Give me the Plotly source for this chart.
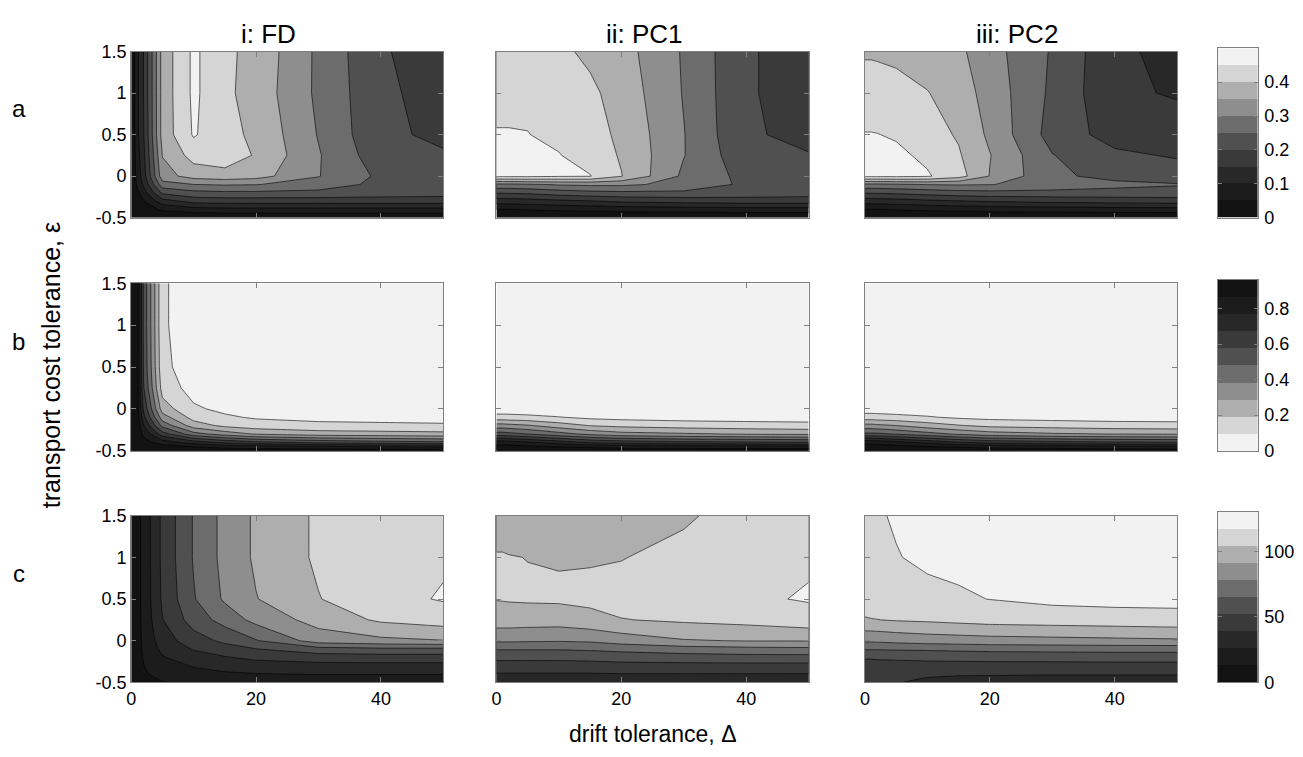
import numpy as np
import plotly.graph_objects as go

# ---------------- data ----------------
delta = [0, 1, 2, 5, 10, 15, 20, 30, 40, 50]                       # drift tolerance (x grid)
epsilon = [-0.5, -0.45, -0.4, -0.3, -0.2, -0.1, 0, 0.25, 0.5, 1.0, 1.5]  # transport cost tolerance (y grid)

col_titles = ["i: FD", "ii: PC1", "iii: PC2"]
row_labels = ["a", "b", "c"]

# each inner list = one delta column, values ordered along epsilon
a_fd = [
    [0, 0, 0, 0, 0, 0, 0, 0, 0, 0, 0],
    [0, 0, 0.01, 0.02, 0.04, 0.06, 0.07, 0.08, 0.09, 0.09, 0.09],
    [0, 0.01, 0.02, 0.048, 0.08, 0.11, 0.13, 0.14, 0.148, 0.152, 0.152],
    [0, 0.03, 0.06, 0.13, 0.21, 0.28, 0.33, 0.352, 0.37, 0.37, 0.37],
    [0, 0.04, 0.08, 0.17, 0.235, 0.30, 0.37, 0.42, 0.455, 0.46, 0.46],
    [0, 0.045, 0.085, 0.175, 0.24, 0.305, 0.38, 0.43, 0.415, 0.41, 0.41],
    [0, 0.045, 0.085, 0.175, 0.24, 0.302, 0.37, 0.395, 0.39, 0.38, 0.385],
    [0, 0.045, 0.085, 0.175, 0.235, 0.28, 0.302, 0.304, 0.297, 0.29, 0.29],
    [0, 0.045, 0.085, 0.175, 0.225, 0.235, 0.24, 0.22, 0.21, 0.21, 0.205],
    [0, 0.045, 0.085, 0.175, 0.22, 0.225, 0.225, 0.205, 0.19, 0.18, 0.175],
]
a_pc1 = [
    [0, 0.02, 0.048, 0.125, 0.205, 0.29, 0.46, 0.47, 0.452, 0.44, 0.44],
    [0, 0.02, 0.048, 0.125, 0.205, 0.29, 0.46, 0.47, 0.452, 0.44, 0.44],
    [0, 0.02, 0.049, 0.126, 0.206, 0.29, 0.46, 0.47, 0.452, 0.44, 0.439],
    [0, 0.025, 0.055, 0.13, 0.21, 0.295, 0.46, 0.465, 0.451, 0.44, 0.435],
    [0, 0.03, 0.06, 0.14, 0.225, 0.305, 0.455, 0.452, 0.44, 0.43, 0.41],
    [0, 0.03, 0.065, 0.148, 0.235, 0.31, 0.452, 0.43, 0.42, 0.41, 0.39],
    [0, 0.035, 0.07, 0.16, 0.24, 0.31, 0.402, 0.395, 0.39, 0.38, 0.37],
    [0, 0.035, 0.075, 0.17, 0.24, 0.285, 0.29, 0.302, 0.302, 0.297, 0.295],
    [0, 0.04, 0.08, 0.175, 0.23, 0.24, 0.235, 0.215, 0.205, 0.205, 0.205],
    [0, 0.04, 0.08, 0.175, 0.222, 0.225, 0.225, 0.202, 0.19, 0.18, 0.18],
]
a_pc2 = [
    [0, 0.02, 0.048, 0.125, 0.205, 0.29, 0.46, 0.47, 0.452, 0.42, 0.395],
    [0, 0.02, 0.048, 0.125, 0.205, 0.29, 0.46, 0.47, 0.452, 0.42, 0.395],
    [0, 0.02, 0.049, 0.126, 0.206, 0.29, 0.46, 0.468, 0.451, 0.419, 0.394],
    [0, 0.025, 0.055, 0.13, 0.21, 0.295, 0.46, 0.46, 0.445, 0.415, 0.39],
    [0, 0.03, 0.06, 0.14, 0.22, 0.302, 0.455, 0.44, 0.42, 0.402, 0.375],
    [0, 0.03, 0.065, 0.148, 0.23, 0.305, 0.42, 0.405, 0.395, 0.375, 0.36],
    [0, 0.035, 0.07, 0.155, 0.235, 0.302, 0.348, 0.352, 0.34, 0.33, 0.32],
    [0, 0.035, 0.075, 0.165, 0.235, 0.28, 0.26, 0.252, 0.23, 0.24, 0.245],
    [0, 0.04, 0.08, 0.17, 0.235, 0.262, 0.235, 0.21, 0.18, 0.16, 0.16],
    [0, 0.04, 0.08, 0.175, 0.235, 0.253, 0.225, 0.195, 0.175, 0.145, 0.135],
]
b_fd = [
    [0.96, 0.96, 0.96, 0.96, 0.955, 0.955, 0.95, 0.95, 0.95, 0.95, 0.95],
    [0.955, 0.95, 0.94, 0.93, 0.92, 0.91, 0.9, 0.9, 0.9, 0.9, 0.9],
    [0.95, 0.93, 0.9, 0.84, 0.77, 0.7, 0.65, 0.58, 0.56, 0.55, 0.55],
    [0.95, 0.9, 0.82, 0.62, 0.45, 0.33, 0.24, 0.15, 0.12, 0.11, 0.11],
    [0.94, 0.86, 0.72, 0.42, 0.24, 0.155, 0.11, 0.06, 0.045, 0.04, 0.04],
    [0.93, 0.82, 0.65, 0.34, 0.17, 0.11, 0.075, 0.04, 0.035, 0.03, 0.03],
    [0.93, 0.8, 0.6, 0.28, 0.14, 0.085, 0.05, 0.035, 0.03, 0.03, 0.03],
    [0.93, 0.78, 0.55, 0.24, 0.12, 0.07, 0.045, 0.03, 0.03, 0.03, 0.03],
    [0.93, 0.76, 0.52, 0.23, 0.115, 0.065, 0.04, 0.03, 0.03, 0.03, 0.03],
    [0.93, 0.75, 0.5, 0.22, 0.11, 0.06, 0.04, 0.03, 0.03, 0.03, 0.03],
]
b_pc1 = [
    [0.95, 0.9, 0.82, 0.52, 0.33, 0.13, 0.04, 0.02, 0.01, 0.01, 0.01],
    [0.95, 0.9, 0.82, 0.52, 0.33, 0.13, 0.04, 0.02, 0.01, 0.01, 0.01],
    [0.95, 0.9, 0.81, 0.51, 0.32, 0.128, 0.04, 0.02, 0.01, 0.01, 0.01],
    [0.95, 0.88, 0.78, 0.48, 0.3, 0.12, 0.035, 0.02, 0.01, 0.01, 0.01],
    [0.94, 0.86, 0.72, 0.42, 0.24, 0.1, 0.03, 0.02, 0.01, 0.01, 0.01],
    [0.94, 0.84, 0.66, 0.36, 0.19, 0.075, 0.025, 0.02, 0.01, 0.01, 0.01],
    [0.93, 0.82, 0.63, 0.32, 0.17, 0.065, 0.022, 0.02, 0.01, 0.01, 0.01],
    [0.93, 0.81, 0.6, 0.3, 0.15, 0.055, 0.02, 0.015, 0.01, 0.01, 0.01],
    [0.93, 0.8, 0.59, 0.28, 0.14, 0.05, 0.02, 0.015, 0.01, 0.01, 0.01],
    [0.93, 0.8, 0.58, 0.27, 0.13, 0.05, 0.02, 0.015, 0.01, 0.01, 0.01],
]
b_pc2 = [
    [0.95, 0.9, 0.84, 0.5, 0.32, 0.14, 0.045, 0.02, 0.01, 0.01, 0.01],
    [0.95, 0.9, 0.84, 0.5, 0.32, 0.14, 0.045, 0.02, 0.01, 0.01, 0.01],
    [0.95, 0.9, 0.83, 0.5, 0.31, 0.135, 0.045, 0.02, 0.01, 0.01, 0.01],
    [0.95, 0.89, 0.8, 0.47, 0.29, 0.125, 0.04, 0.02, 0.01, 0.01, 0.01],
    [0.94, 0.87, 0.74, 0.42, 0.24, 0.105, 0.035, 0.02, 0.01, 0.01, 0.01],
    [0.94, 0.85, 0.68, 0.37, 0.2, 0.08, 0.03, 0.02, 0.01, 0.01, 0.01],
    [0.93, 0.83, 0.64, 0.33, 0.17, 0.068, 0.025, 0.02, 0.01, 0.01, 0.01],
    [0.93, 0.81, 0.61, 0.3, 0.155, 0.058, 0.02, 0.015, 0.01, 0.01, 0.01],
    [0.93, 0.79, 0.59, 0.285, 0.14, 0.052, 0.02, 0.015, 0.01, 0.01, 0.01],
    [0.92, 0.78, 0.58, 0.28, 0.135, 0.05, 0.02, 0.015, 0.01, 0.01, 0.01],
]
c_fd = [
    [4, 4, 4, 4.5, 4.5, 5, 5, 5, 5, 5, 5],
    [7, 7, 7.5, 8, 8, 8.5, 8.5, 9, 9, 9, 9],
    [10.5, 11, 12, 12.8, 14, 15, 15.5, 16.5, 17, 17, 17],
    [12.5, 14, 16, 20, 25, 29, 33, 38.5, 41, 42, 42],
    [17, 19, 22, 27, 33, 40, 46, 58, 64, 66, 66],
    [17, 20, 24, 31, 38, 46, 55, 70, 80, 82, 82],
    [17, 21, 25.5, 33, 42, 51.5, 64, 82, 90.5, 93, 93],
    [17, 21, 26.5, 35, 45, 60, 84, 96, 103.5, 106, 106],
    [17, 21, 26.5, 35, 46, 62, 88, 106, 113, 113, 112],
    [17, 21, 26.5, 35, 46, 62, 90.5, 110, 118, 115.5, 115],
]
c_pc1 = [
    [30, 34, 38, 47, 55, 66, 80, 98, 104.5, 105, 97],
    [30, 34, 38, 47, 55, 66, 80, 98, 104.7, 105, 97],
    [30, 34, 38, 47, 55, 66, 80, 98, 105, 104.5, 96.5],
    [30, 34, 38, 47, 55, 66, 79.5, 97.5, 105.5, 103.8, 96],
    [30, 34, 38, 47, 55, 66, 79, 97, 106, 103, 95],
    [30, 34, 38, 47, 56, 67, 80, 100, 107, 103, 95],
    [31, 35, 38.5, 48, 57, 69, 84, 103.5, 109, 103.5, 97],
    [31, 35, 38.5, 48, 59, 72, 90, 106, 112, 108, 102],
    [31, 35, 38.5, 48, 60, 74, 91.5, 108, 115, 112, 110],
    [31, 35, 38.5, 48, 60, 75, 91.5, 112, 118, 115.5, 112],
]
c_pc2 = [
    [40, 42, 44, 48, 53, 66, 80, 103, 110, 113, 116],
    [40, 42, 44, 48, 53, 66, 80, 103.5, 110.5, 114, 116],
    [40, 42, 44, 48, 53.5, 66, 80.5, 103.8, 111, 115, 116],
    [39.5, 41.5, 43.5, 48, 54, 66.5, 82, 105, 112.5, 116.5, 118],
    [37, 38.5, 41, 48, 55, 67, 84, 106, 114, 119, 120],
    [35.5, 37.5, 40, 48, 55.5, 68, 85, 107.5, 115.5, 120, 121],
    [35, 37, 40, 48, 56, 69, 86, 109, 117.2, 121, 122],
    [34.5, 37, 39.5, 48, 56.5, 69.5, 87, 110, 120, 122, 122],
    [34, 37, 39.5, 48, 57, 70, 88, 111, 121, 122, 122],
    [34, 37, 39.5, 48, 57, 70, 89, 112, 121, 122, 122],
]

levels_a = [0, 0.05, 0.1, 0.15, 0.2, 0.25, 0.3, 0.35, 0.4, 0.45, 0.5]
levels_b = [0, 0.096, 0.192, 0.288, 0.384, 0.48, 0.576, 0.672, 0.768, 0.864, 0.96]
levels_c = [0, 13, 26, 39, 52, 65, 78, 91, 104, 117, 130]

cbar_ticks_a = [0, 0.1, 0.2, 0.3, 0.4]
cbar_ticks_b = [0, 0.2, 0.4, 0.6, 0.8]
cbar_ticks_c = [0, 50, 100]

x_ticks = [0, 20, 40]
y_ticks = [-0.5, 0, 0.5, 1, 1.5]
y_ticktext = ["-0.5", "0", "0.5", "1", "1.5"]

# ---------------- style / layout ----------------
W, H = 1303, 757
COLS_PX = [(126.7, 440.0), (493.3, 806.7), (863.3, 1176.7)]
ROWS_PX = [(42.7, 213.3), (280.7, 452.7), (519.3, 690.7)]
CBAR_X = (1217.5, 1257.5)
CBAR_ROWS = [(39.3, 213.3), (277.3, 452.7), (515.7, 690.7)]
GRAYS = ["#121212", "#1c1c1c", "#282828", "#3a3a3a", "#505050",
         "#6c6c6c", "#8e8e8e", "#aeaeae", "#d5d5d5", "#f2f2f2"]
FONT = "Arial, 'Liberation Sans', Helvetica, sans-serif"
FRAME = "#808080"


def xdom(a, b):
    return [a / W, b / W]


def ydom(t, b):
    return [1 - b / H, 1 - t / H]


panels = [[a_fd, a_pc1, a_pc2], [b_fd, b_pc1, b_pc2], [c_fd, c_pc1, c_pc2]]
row_levels = [levels_a, levels_b, levels_c]
row_cticks = [cbar_ticks_a, cbar_ticks_b, cbar_ticks_c]
row_reversed = [False, True, False]

fig = go.Figure()
layout = {}
ax = 0

for r in range(3):
    lv = row_levels[r]
    step = lv[1] - lv[0]
    cols = GRAYS[::-1] if row_reversed[r] else GRAYS
    nb = len(cols)
    cscale = [[k / (nb - 1), cols[k]] for k in range(nb)]
    for c in range(3):
        ax += 1
        sfx = "" if ax == 1 else str(ax)
        z = np.array(panels[r][c], dtype=float).T.tolist()
        fig.add_trace(go.Contour(
            x=delta, y=epsilon, z=z, autocontour=False,
            contours=dict(start=lv[1], end=lv[-2], size=step, coloring="fill", showlines=True),
            colorscale=cscale, showscale=False,
            line=dict(color="black", width=0.6, smoothing=0),
            xaxis="x" + sfx, yaxis="y" + sfx, hoverinfo="skip"))
        layout["xaxis" + sfx] = dict(
            domain=xdom(*COLS_PX[c]), range=[0, 50], anchor="y" + sfx,
            tickvals=x_ticks, showticklabels=(r == 2), ticks="inside", ticklen=5,
            tickcolor=FRAME, showline=True, linecolor=FRAME, linewidth=1, mirror="ticks",
            showgrid=False, zeroline=False, tickfont=dict(size=18, color="black", family=FONT))
        layout["yaxis" + sfx] = dict(
            domain=ydom(*ROWS_PX[r]), range=[-0.5, 1.5], anchor="x" + sfx,
            tickvals=y_ticks, ticktext=y_ticktext, showticklabels=(c == 0),
            ticks="inside", ticklen=5, tickcolor=FRAME, showline=True, linecolor=FRAME,
            linewidth=1, mirror="ticks", showgrid=False, zeroline=False,
            tickfont=dict(size=18, color="black", family=FONT))
    # colour bar for the row
    ax += 1
    sfx = str(ax)
    fig.add_trace(go.Heatmap(
        x=[0, 1], y=lv, z=[[k] for k in range(nb)], zmin=0, zmax=nb - 1,
        colorscale=cscale, showscale=False, hoverinfo="skip",
        xaxis="x" + sfx, yaxis="y" + sfx))
    layout["xaxis" + sfx] = dict(
        domain=xdom(*CBAR_X), range=[0, 1], anchor="y" + sfx, showticklabels=False,
        ticks="", showline=True, linecolor=FRAME, linewidth=1, mirror=True,
        showgrid=False, zeroline=False)
    layout["yaxis" + sfx] = dict(
        domain=ydom(*CBAR_ROWS[r]), range=[lv[0], lv[-1]], anchor="x" + sfx, side="right",
        tickvals=row_cticks[r], ticks="inside", ticklen=4, tickcolor=FRAME,
        showline=True, linecolor=FRAME, linewidth=1, mirror="ticks", showgrid=False,
        zeroline=False, ticklabelstandoff=2,
        tickfont=dict(size=18, color="black", family=FONT))

annotations = []
title_x = [265, 642, 1016]
for c in range(3):
    annotations.append(dict(text=col_titles[c], x=title_x[c] / W, y=1 - 25 / H,
                            xref="paper", yref="paper", showarrow=False,
                            xanchor="center", yanchor="middle",
                            font=dict(size=26, color="black", family=FONT)))
label_y = [101, 340, 579]
for r in range(3):
    annotations.append(dict(text=row_labels[r], x=14 / W, y=1 - label_y[r] / H,
                            xref="paper", yref="paper", showarrow=False,
                            xanchor="center", yanchor="middle",
                            font=dict(size=24, color="black", family=FONT)))
annotations.append(dict(text="transport cost tolerance, \u03b5", x=47 / W, y=1 - 365 / H,
                        xref="paper", yref="paper", showarrow=False, textangle=-90,
                        xanchor="center", yanchor="middle",
                        font=dict(size=25, color="black", family=FONT)))
annotations.append(dict(text="drift tolerance, \u0394", x=650 / W, y=1 - 744 / H,
                        xref="paper", yref="paper", showarrow=False,
                        xanchor="center", yanchor="middle",
                        font=dict(size=23, color="black", family=FONT)))

fig.update_layout(**layout)
fig.update_layout(width=W, height=H, margin=dict(l=0, r=0, t=0, b=0),
                  paper_bgcolor="white", plot_bgcolor="white", showlegend=False,
                  annotations=annotations, font=dict(family=FONT, color="black"))

fig.write_html("out.html")
